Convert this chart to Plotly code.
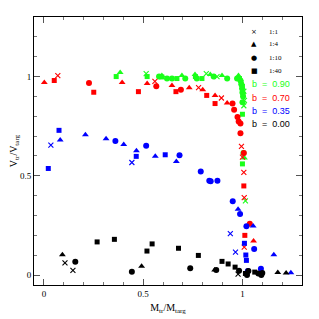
import plotly.graph_objects as go

# ---------------- data ----------------
# b = 0.90 (green)
G11_X = [0.515, 0.818, 0.872, 1.007, 1.010, 1.007, 1.015]
G11_Y = [1.015, 1.015, 1.000, 0.926, 0.880, 0.853, 0.374]
G14_X = [0.384, 0.594, 0.695, 0.761, 0.838, 0.897, 0.980, 1.010]
G14_Y = [1.020, 1.005, 1.005, 1.010, 1.010, 1.005, 1.005, 0.590]
G110_X = [0.580, 0.620, 0.645, 0.712, 0.770, 0.855, 0.923, 0.973, 0.990, 0.995, 0.998, 1.000, 1.003, 1.000, 1.005]
G110_Y = [1.000, 0.990, 0.990, 0.990, 0.990, 1.000, 0.990, 0.990, 0.980, 0.960, 0.940, 0.920, 0.900, 0.870, 0.615]
G140_X = [0.364, 0.520, 0.594, 0.670, 0.763, 0.796, 0.985, 0.993, 1.000, 1.003, 1.000, 1.000]
G140_Y = [1.000, 1.000, 0.998, 0.990, 1.000, 0.990, 0.990, 0.970, 0.950, 0.910, 0.810, 0.560]

# b = 0.70 (red)
R11_X = [0.070, 0.559, 0.779, 0.894, 0.995, 1.000, 1.007, 1.009, 1.009]
R11_Y = [1.005, 0.976, 0.944, 0.892, 0.648, 0.594, 0.517, 0.390, 0.141]
R14_X = [0.002, 0.394, 0.520, 0.645, 0.732, 0.800, 0.862, 0.923, 1.056]
R14_Y = [0.970, 0.970, 0.965, 0.955, 0.944, 0.934, 0.904, 0.867, 0.172]
R110_X = [0.227, 0.566, 0.690, 0.950, 0.958, 0.975, 0.981, 0.990, 0.990, 1.007, 1.037]
R110_Y = [0.968, 0.951, 0.934, 0.864, 0.833, 0.796, 0.774, 0.763, 0.714, 0.615, 0.258]
R140_X = [0.052, 0.251, 0.476, 0.665, 0.820, 0.862, 1.007, 1.012]
R140_Y = [0.980, 0.921, 0.924, 0.924, 0.905, 0.864, 0.449, 0.200]

# b = 0.35 (blue)
B11_X = [0.035, 0.443, 0.939, 0.965]
B11_Y = [0.655, 0.567, 0.209, 0.116]
B14_X = [0.082, 0.209, 0.313, 0.402, 0.466, 0.561, 0.667, 0.978, 1.054, 1.158, 1.244]
B14_Y = [0.680, 0.707, 0.687, 0.658, 0.626, 0.598, 0.572, 0.332, 0.247, 0.103, 0.012]
B110_X = [0.360, 0.515, 0.683, 0.790, 0.833, 0.840, 0.874, 0.951, 0.988, 1.020, 1.059, 1.093, 1.027]
B110_Y = [0.675, 0.652, 0.604, 0.522, 0.475, 0.473, 0.475, 0.372, 0.308, 0.246, 0.131, 0.032, 0.020]
B140_X = [0.076, 0.022, 0.465, 0.611, 1.010, 1.017, 1.020]
B140_Y = [0.729, 0.537, 0.598, 0.606, 0.160, 0.101, 0.074]

# b = 0.00 (black)
K11_X = [0.106, 0.146, 0.978]
K11_Y = [0.062, 0.024, 0.005]
K14_X = [0.093, 0.492, 0.860, 1.178, 1.220]
K14_Y = [0.103, 0.045, 0.025, 0.013, 0.010]
K110_X = [0.158, 0.443, 0.737, 0.868, 0.983, 1.023, 1.030, 1.080, 1.095, 1.100]
K110_Y = [0.067, 0.017, 0.034, 0.025, 0.022, 0.000, 0.020, 0.008, 0.000, 0.010]
K140_X = [0.268, 0.355, 0.519, 0.545, 0.678, 0.778, 0.897, 0.928, 0.963, 1.015, 1.062]
K140_Y = [0.167, 0.180, 0.121, 0.157, 0.135, 0.099, 0.069, 0.056, 0.040, 0.008, 0.015]

RATIO_LABELS = ["1:1", "1:4", "1:10", "1:40"]
RATIO_GLYPHS = ["\u00d7", "\u25b2", "\u25cf", "\u25a0"]
B_LABELS = ["b\u00a0\u00a0=\u00a0\u00a00.90", "b\u00a0\u00a0=\u00a0\u00a00.70",
            "b\u00a0\u00a0=\u00a0\u00a00.35", "b\u00a0\u00a0=\u00a0\u00a00.00"]
COLORS = ["#1aff1a", "#ff0000", "#0000ff", "#000000"]

X_TICKS = [0, 0.5, 1]
X_TICK_TEXT = ["0", "0.5", "1"]
Y_TICKS = [0, 0.5, 1]
Y_TICK_TEXT = ["0", "0.5", "1"]

# ---------------- figure ----------------
groups = [
    (COLORS[0], [(G11_X, G11_Y), (G14_X, G14_Y), (G110_X, G110_Y), (G140_X, G140_Y)]),
    (COLORS[1], [(R11_X, R11_Y), (R14_X, R14_Y), (R110_X, R110_Y), (R140_X, R140_Y)]),
    (COLORS[2], [(B11_X, B11_Y), (B14_X, B14_Y), (B110_X, B110_Y), (B140_X, B140_Y)]),
    (COLORS[3], [(K11_X, K11_Y), (K14_X, K14_Y), (K110_X, K110_Y), (K140_X, K140_Y)]),
]
symbols = ["x-thin", "triangle-up", "circle", "square"]
sizes = [5, 6, 6, 5]

fig = go.Figure()
for color, sets in groups:
    for (xs, ys), sym, sz in zip(sets, symbols, sizes):
        if sym == "x-thin":
            marker = dict(symbol=sym, size=sz, color=color,
                          line=dict(color=color, width=1.1))
        else:
            marker = dict(symbol=sym, size=sz, color=color, line=dict(width=0))
        fig.add_trace(go.Scatter(x=xs, y=ys, mode="markers", marker=marker,
                                 showlegend=False, hoverinfo="skip"))

serif = "Liberation Serif, Times New Roman, serif"
sans = "Liberation Sans, Arial, sans-serif"

axis_common = dict(
    range=[-0.05, 1.3], showgrid=False, zeroline=False,
    showline=True, linecolor="black", linewidth=1, mirror="ticks",
    ticks="inside", ticklen=6, tickwidth=1, tickcolor="#555555",
    minor=dict(ticks="inside", ticklen=3, tickwidth=1, tickcolor="#777777", dtick=0.1, tick0=0),
    tickfont=dict(family=serif, size=9, color="black"),
    tickmode="array",
)
fig.update_xaxes(**axis_common, tickvals=X_TICKS, ticktext=X_TICK_TEXT,
                 title=dict(text="M<sub>tr</sub>/M<sub>targ</sub>",
                            font=dict(family=serif, size=10, color="black"), standoff=6))
fig.update_yaxes(**axis_common, tickvals=Y_TICKS, ticktext=Y_TICK_TEXT,
                 title=dict(text="V<sub>tr</sub>/V<sub>targ</sub>",
                            font=dict(family=serif, size=10, color="black"), standoff=6))

annotations = []
ratio_y = [0.945, 0.899, 0.847, 0.799]
for lab, gl, yy in zip(RATIO_LABELS, RATIO_GLYPHS, ratio_y):
    annotations.append(dict(x=0.821, y=yy, xref="paper", yref="paper", text=gl,
                            showarrow=False, xanchor="center", yanchor="middle",
                            font=dict(family="DejaVu Sans", size=7, color="black")))
    annotations.append(dict(x=0.869, y=yy, xref="paper", yref="paper", text=lab,
                            showarrow=False, xanchor="left", yanchor="middle",
                            font=dict(family=serif, size=7, color="black")))
b_y = [0.750, 0.699, 0.649, 0.601]
for lab, col, yy in zip(B_LABELS, COLORS, b_y):
    annotations.append(dict(x=0.805, y=yy, xref="paper", yref="paper", text=lab,
                            showarrow=False, xanchor="left", yanchor="middle",
                            font=dict(family=sans, size=9, color=col)))

fig.update_layout(
    width=311, height=311,
    margin=dict(l=26, r=17, t=9, b=34, autoexpand=False),
    plot_bgcolor="white", paper_bgcolor="white",
    annotations=annotations,
    showlegend=False,
)
fig.write_html("out.html")
